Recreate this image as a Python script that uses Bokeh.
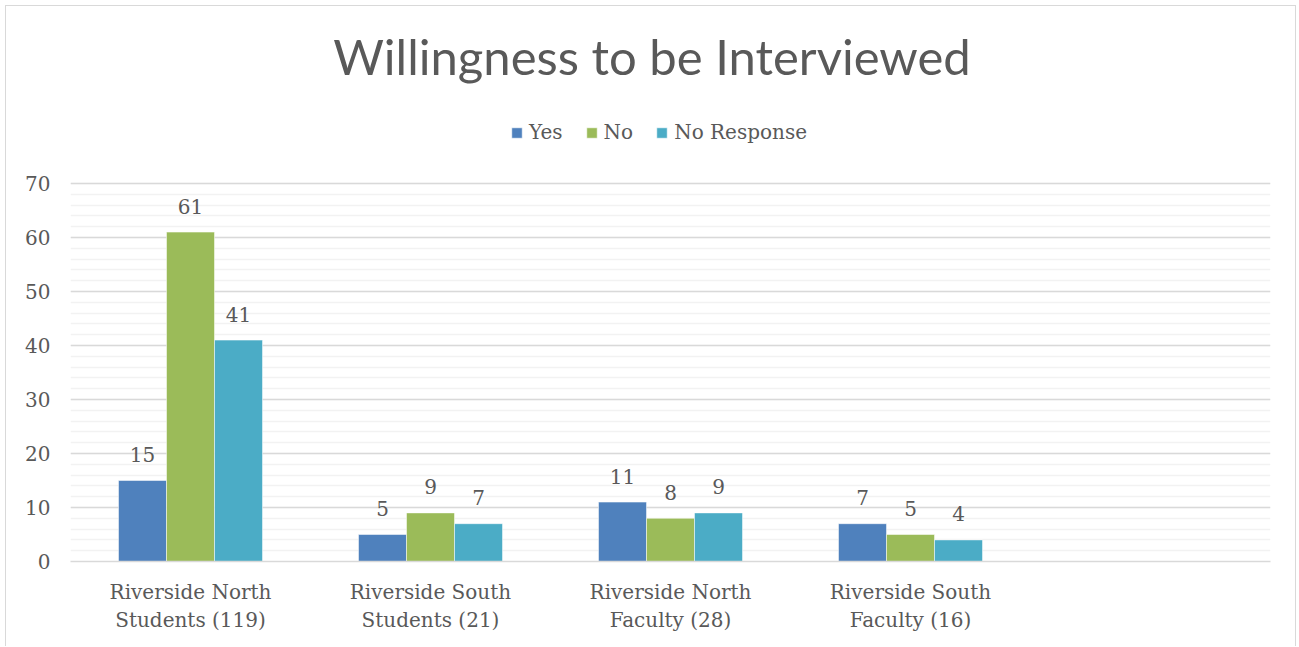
from bokeh.plotting import figure
from bokeh.models import (Range1d, FixedTicker, SingleIntervalTicker, Label, Legend, LegendItem,
                          ColumnDataSource)
from bokeh.embed import file_html
from bokeh.resources import INLINE
from bokeh.core.properties import value

categories = ["Riverside North\nStudents (119)", "Riverside South\nStudents (21)",
              "Riverside North\nFaculty (28)", "Riverside South\nFaculty (16)"]
series_names = ["Yes", "No", "No Response"]
yes_vals = [15, 5, 11, 7]
no_vals = [61, 9, 8, 5]
noresp_vals = [41, 7, 9, 4]
colors = ["#4F81BD", "#9BBB59", "#4BACC6"]
n_slots = 5
y_max = 70
title_text = "Willingness to be Interviewed"

W, H = 1291, 641
# frame extends above the value axis so that title and legend live inside it
p = figure(width=W, height=H, output_backend="svg", toolbar_location=None,
           x_range=Range1d(0, n_slots), y_range=Range1d(0, 102.78),
           min_border_left=64, min_border_right=27, min_border_top=0, min_border_bottom=86)
p.styles = {"margin-left": "5px", "margin-top": "5px",
            "border-left": "1px solid #D9D9D9", "border-top": "1px solid #D9D9D9",
            "border-right": "1px solid #D9D9D9"}
p.outline_line_color = None
p.background_fill_color = "white"
p.border_fill_color = "white"

centers = [i + 0.5 for i in range(len(categories))]
offsets = [-0.2, 0.0, 0.2]
all_vals = [yes_vals, no_vals, noresp_vals]
renderers = []
for name, vals, off, col in zip(series_names, all_vals, offsets, colors):
    src = ColumnDataSource(dict(x=[c + off for c in centers], top=vals,
                                lab=[str(v) for v in vals]))
    r = p.vbar(x="x", top="top", width=0.2, bottom=0, source=src, fill_color=col,
               line_color="white", line_width=0.5)
    renderers.append((name, r))
    p.text(x="x", y="top", text="lab", source=src, text_align="center",
           text_baseline="alphabetic", y_offset=-26, text_color="#595959",
           text_font=value("DejaVu Serif"), text_font_size="20px")

# axes
ticker = SingleIntervalTicker(interval=10, num_minor_ticks=5)
p.yaxis.ticker = ticker
p.yaxis.bounds = (0, y_max)
p.yaxis.axis_line_color = None
p.yaxis.major_tick_line_color = None
p.yaxis.minor_tick_line_color = None
p.yaxis.major_tick_out = 0
p.yaxis.major_label_standoff = 16
p.yaxis.major_label_text_font = "DejaVu Serif"
p.yaxis.major_label_text_font_size = "20px"
p.yaxis.major_label_text_color = "#595959"

p.xaxis.ticker = FixedTicker(ticks=centers)
p.xaxis.major_label_overrides = {c: lab for c, lab in zip(centers, categories)}
p.xaxis.axis_line_color = "#D9D9D9"
p.xaxis.axis_line_width = 1.5
p.xaxis.major_tick_line_color = None
p.xaxis.minor_tick_line_color = None
p.xaxis.major_tick_out = 0
p.xaxis.major_label_standoff = 18
p.xaxis.major_label_text_font = "DejaVu Serif"
p.xaxis.major_label_text_font_size = "20px"
p.xaxis.major_label_text_color = "#595959"

p.xgrid.grid_line_color = None
p.ygrid.ticker = ticker
p.ygrid.bounds = (0, y_max)
p.ygrid.grid_line_color = "#D9D9D9"
p.ygrid.grid_line_width = 1.5
p.ygrid.minor_grid_line_color = "#F2F2F2"
p.ygrid.minor_grid_line_width = 1.5

# title
p.add_layout(Label(x=2.423, y=93.63, text=title_text, text_align="center",
                   text_baseline="alphabetic", text_font="Lato", text_font_size="49px",
                   text_color="#595959"))

legend = Legend(items=[LegendItem(label=n, renderers=[r]) for n, r in renderers],
                orientation="horizontal", location=(440, 417),
                glyph_width=13, glyph_height=13, label_standoff=6, spacing=22,
                padding=0, margin=0, border_line_color=None, background_fill_alpha=0,
                label_text_font="DejaVu Serif", label_text_font_size="20px",
                label_text_color="#595959", label_height=20)
p.add_layout(legend, "center")

open("out.html", "w").write(file_html(p, INLINE))
